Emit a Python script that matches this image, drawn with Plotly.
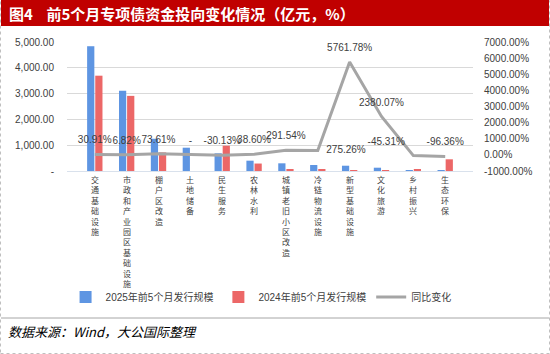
import plotly.graph_objects as go

categories = ["交通基础设施", "市政和产业园区基础设施", "棚户区改造", "土地储备", "民生服务", "农林水利",
              "城镇老旧小区改造", "冷链物流设施", "新型基础设施", "文化旅游", "乡村振兴", "生态环保"]
issue_2025 = [4836, 3110, 1250, 903, 686, 400, 298, 232, 205, 128, 22, 16.5]
issue_2024 = [3694, 2912, 720, None, 980, 289, 76, 62, 3.5, 5.2, 40, 453]
yoy_change = [30.91, 6.82, 73.61, 0, -30.13, 38.60, 291.54, 275.26, 5761.78, 2380.07, -45.31, -96.36]
yoy_labels = ["30.91%", "6.82%", "73.61%", "-", "-30.13%", "38.60%", "291.54%", "275.26%",
              "5761.78%", "2380.07%", "-45.31%", "-96.36%"]
label_pos = ["top center"] * 7 + ["middle right", "top center", "top center", "top left", "top center"]

left_ticks = [0, 1000, 2000, 3000, 4000, 5000]
left_ticktext = ["-", "1,000.00", "2,000.00", "3,000.00", "4,000.00", "5,000.00"]
right_ticks = [-1000, 0, 1000, 2000, 3000, 4000, 5000, 6000, 7000]
right_ticktext = ["-1000.00%", "0.00%", "1000.00%", "2000.00%", "3000.00%", "4000.00%",
                  "5000.00%", "6000.00%", "7000.00%"]

W, H = 550, 354
ML, MR, MT, MB = 67, 77, 42, 183
PW, PH = W - ML - MR, H - MT - MB


def px(x):
    return (x - ML) / PW


def py(y):
    return (H - MB - y) / PH


FONT = "Liberation Sans, Noto Sans CJK SC, sans-serif"
TXT = "#404040"

fig = go.Figure()
fig.add_trace(go.Bar(x=categories, y=issue_2025, name="2025年前5个月发行规模",
                     marker=dict(color="#5E95E2", line=dict(width=0))))
fig.add_trace(go.Bar(x=categories, y=issue_2024, name="2024年前5个月发行规模",
                     marker=dict(color="#EC6767", line=dict(width=0))))
fig.add_trace(go.Scatter(x=categories, y=yoy_change, name="同比变化", yaxis="y2",
                         mode="lines+markers+text", text=yoy_labels, textposition=label_pos,
                         textfont=dict(size=10, color=TXT, family=FONT),
                         marker=dict(size=12, color="rgba(0,0,0,0)"),
                         line=dict(color="#A5A5A5", width=3), cliponaxis=False))

annotations = []
for cat in categories:
    annotations.append(dict(x=cat, xref="x", y=0, yref="paper", text="<br>".join(cat), showarrow=False,
                            yanchor="top", yshift=-2, borderpad=0, align="center",
                            font=dict(size=8, color=TXT, family="Noto Sans CJK SC")))

annotations.append(dict(x=px(7), xref="paper", y=py(13), yref="paper", xanchor="left", yanchor="middle",
                        text="<b>图4    前5个月专项债资金投向变化情况（亿元，%）</b>", showarrow=False,
                        font=dict(size=15, color="white", family="Noto Sans CJK SC")))
annotations.append(dict(x=px(6), xref="paper", y=py(331), yref="paper", xanchor="left", yanchor="middle",
                        text="<i>数据来源：Wind，大公国际整理</i>", showarrow=False,
                        font=dict(size=13, color="black", family="Noto Sans CJK SC")))

shapes = [
    dict(type="rect", xref="paper", yref="paper", x0=px(0.5), x1=px(549.5), y0=py(353.5), y1=py(0.5),
         line=dict(color="#BFBFBF", width=1, dash="dot"), layer="below"),
    dict(type="rect", xref="paper", yref="paper", x0=px(1), x1=px(549), y0=py(26), y1=py(0),
         line=dict(width=0), fillcolor="#C00000", layer="below"),
    dict(type="line", xref="paper", yref="paper", x0=px(1), x1=px(549), y0=py(318), y1=py(318),
         line=dict(color="#A6A6A6", width=1)),
]

fig.update_layout(
    width=W, height=H, margin=dict(l=ML, r=MR, t=MT, b=MB),
    paper_bgcolor="white", plot_bgcolor="white",
    font=dict(family=FONT, color=TXT, size=10),
    barmode="group", bargap=0.49, bargroupgap=0.11,
    showlegend=True,
    legend=dict(orientation="h", x=0.478, xanchor="center", y=py(297), yanchor="middle",
                font=dict(size=10, color=TXT, family=FONT), itemwidth=30, bgcolor="rgba(0,0,0,0)"),
    xaxis=dict(showticklabels=False, showline=True, linecolor="#D9E1EC", linewidth=1,
               ticks="", showgrid=False, fixedrange=True),
    yaxis=dict(range=[0, 5000], tickvals=left_ticks, ticktext=left_ticktext, showgrid=True,
               gridcolor="#D9D9D9", gridwidth=1, zeroline=False, ticks="outside", ticklen=10,
               tickcolor="rgba(0,0,0,0)", tickfont=dict(size=10, color=TXT)),
    yaxis2=dict(range=[-1000, 7000], tickvals=right_ticks, ticktext=right_ticktext, overlaying="y",
                side="right", showgrid=False, zeroline=False, ticks="outside", ticklen=8,
                tickcolor="rgba(0,0,0,0)", tickfont=dict(size=10, color=TXT)),
    annotations=annotations, shapes=shapes,
)

fig.write_html("out.html")
